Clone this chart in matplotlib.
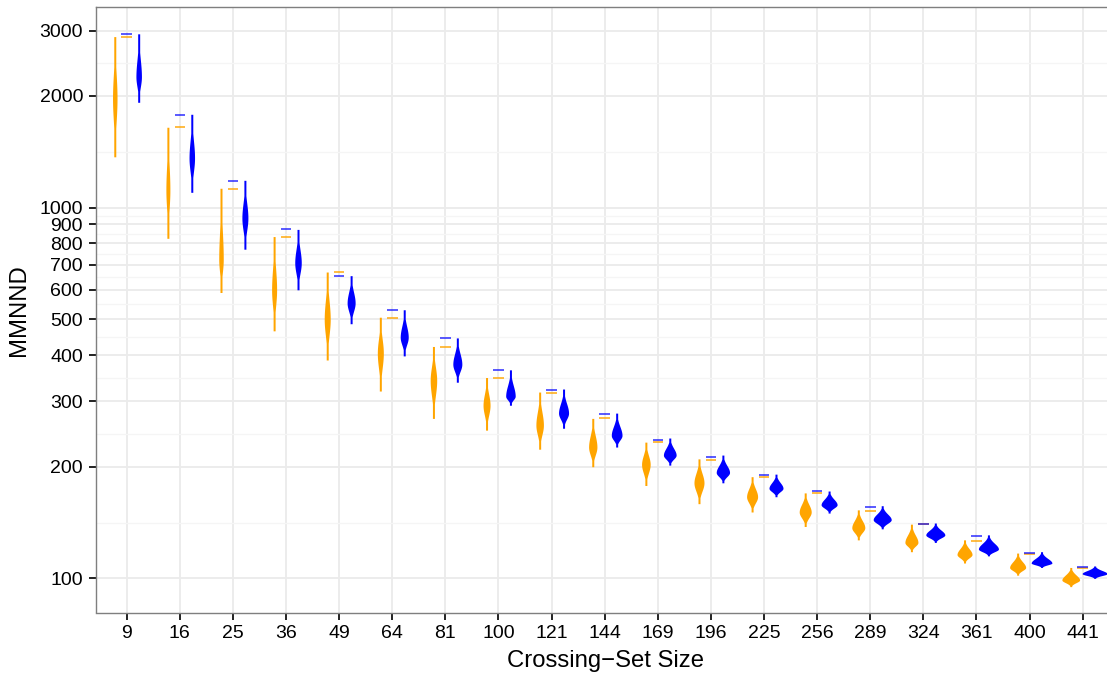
import numpy as np
import matplotlib
matplotlib.use("Agg")
import matplotlib.pyplot as plt
from matplotlib.ticker import FixedLocator, NullFormatter, FixedFormatter

plt.rcParams['font.family'] = ['Liberation Sans', 'DejaVu Sans']

# Crossing-set sizes (categories)
sizes = [9, 16, 25, 36, 49, 64, 81, 100, 121, 144, 169, 196, 225, 256, 289, 324, 361, 400, 441]

# Orange violins: min, mode (widest), max of MMNND
orange_min = [1370, 826, 590, 465, 388, 320, 270, 251, 223, 200, 178, 159, 151, 138, 127, 118, 110, 102, 95]
orange_mode = [1970, 1115, 725, 600, 500, 405, 342, 293, 259, 226, 203, 181, 166, 151, 137, 125, 116, 107, 99]
orange_max = [2890, 1646, 1127, 835, 670, 506, 422, 348, 318, 270, 233, 210, 188, 170, 153, 140, 127, 117, 107]
orange_width = [4.5, 4, 4.5, 5, 6, 6, 6.5, 7, 7.5, 8.3, 8.6, 10, 11, 12, 13, 13, 15, 16, 17.7]  # peak width, px

# Blue violins
blue_min = [1922, 1099, 772, 600, 486, 398, 338, 293, 254, 226, 202, 181, 166, 150, 136, 125, 115, 107, 100]
blue_mode = [2253, 1360, 937, 710, 553, 447, 378, 310, 279, 243, 215, 193, 175, 158, 144, 131, 120, 110, 103]
blue_max = [2940, 1784, 1184, 873, 655, 530, 445, 365, 324, 279, 239, 215, 191, 172, 157, 141, 131, 118, 108]
blue_width = [5.5, 5.5, 6, 6.5, 8, 8, 9, 9.5, 10, 10.7, 12.7, 13.3, 14, 16, 18, 19, 20, 20.7, 25]

# Short reference lines drawn between each pair
orange_line = [2888, 1650, 1125, 831, 670, 503, 420, 348, 316, 270, 233, 208, 188, 170, 152, 140, 126, 116, 106.5]
blue_line = [2938, 1780, 1180, 873, 653, 530, 445, 365, 322, 278, 236, 213, 190, 172, 156, 140.5, 130, 117, 107]

y_major = [100, 200, 300, 400, 500, 600, 700, 800, 900, 1000, 2000, 3000]

ORANGE = '#FFA500'
BLUE = '#0000FF'
PX_PER_CAT = 53.1


def draw_violin(ax, pos, lo, mode, hi, width_px, color):
    lz, mz, hz = np.log10(lo), np.log10(mode), np.log10(hi)
    z = np.linspace(lz, hz, 200)
    s_lo = max(mz - lz, 1e-6) / 2.5
    s_hi = max(hz - mz, 1e-6) / 2.5
    s = np.where(z < mz, s_lo, s_hi)
    half = 0.5 * width_px / PX_PER_CAT * np.exp(-0.5 * ((z - mz) / s) ** 2)
    half = np.maximum(half, 1.0 / PX_PER_CAT)
    ax.fill_betweenx(10 ** z, pos - half, pos + half, color=color, lw=0, zorder=3)


fig = plt.figure(figsize=(11.07, 6.79), dpi=100)
W, H = 1107, 679
left, right, top, bottom = 95.5, 1115, 7, 612.5
ax = fig.add_axes([left / W, (H - bottom) / H, (right - left) / W, (bottom - top) / H])

x = np.arange(len(sizes))
dodge = 0.225
for i in x:
    draw_violin(ax, i - dodge, orange_min[i], orange_mode[i], orange_max[i], orange_width[i], ORANGE)
    draw_violin(ax, i + dodge, blue_min[i], blue_mode[i], blue_max[i], blue_width[i], BLUE)

ax.hlines(orange_line, x - 0.1, x + 0.1, colors=ORANGE, lw=1.3, alpha=0.8, zorder=4)
ax.hlines(blue_line, x - 0.1, x + 0.1, colors=BLUE, lw=1.3, alpha=0.7, zorder=4)

ax.set_yscale('log')
ax.set_xlim(-0.588, 18 + (right - 1082.7) / PX_PER_CAT)
ax.set_ylim(80.9, 3473)

ax.yaxis.set_major_locator(FixedLocator(y_major))
ax.yaxis.set_major_formatter(FixedFormatter([str(v) for v in y_major]))
y_minor = [np.sqrt(a * b) for a, b in zip(y_major[:-1], y_major[1:])]
ax.yaxis.set_minor_locator(FixedLocator(y_minor))
ax.yaxis.set_minor_formatter(NullFormatter())

ax.set_xticks(x)
ax.set_xticklabels([str(s) for s in sizes])

ax.grid(True, which='major', color='#ebebeb', lw=1.3, zorder=0)
ax.grid(True, which='minor', axis='y', color='#f5f5f5', lw=0.9, zorder=0)
ax.set_axisbelow(True)

for sp in ax.spines.values():
    sp.set_color('#7f7f7f')
    sp.set_linewidth(1.0)

ax.tick_params(axis='both', which='major', length=5, width=1.4, color='#222222',
               labelsize=14, labelcolor='black', pad=4)
ax.tick_params(axis='y', which='minor', length=0)

ax.set_xlabel('Crossing\u2212Set Size', fontsize=17.2, labelpad=6)
ax.set_ylabel('MMNND', fontsize=17.2, labelpad=7)

fig.savefig('out.png', dpi=100)
